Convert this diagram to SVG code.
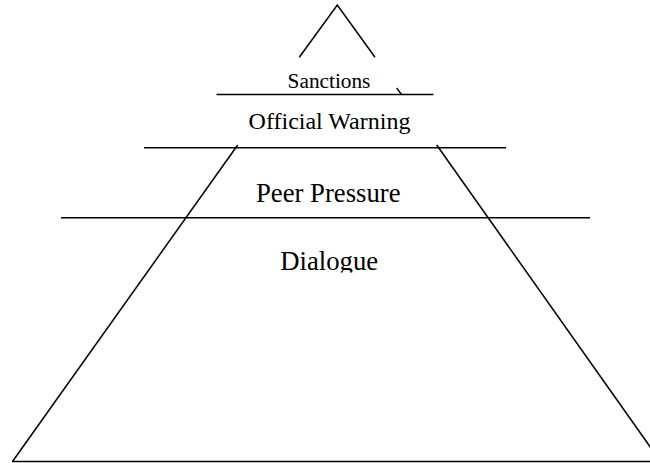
<svg xmlns="http://www.w3.org/2000/svg" width="650" height="463" viewBox="0 0 650 463">
<style>
.ln{stroke:#000;stroke-width:1.5;fill:none;stroke-linecap:butt}
.t{font-family:"Liberation Serif","Times New Roman",serif;fill:#000;text-anchor:middle}
</style>
<defs>
<clipPath id="clipDia"><rect x="0" y="230" width="650" height="42.5"/></clipPath>
</defs>
<rect width="650" height="463" fill="#fff"/>
<g id="connectors">
<polyline class="ln" points="299.3,57.3 337.3,5 375,57.3"/>
<line class="ln" x1="396.7" y1="88" x2="401.6" y2="94.6"/>
<line class="ln" x1="216.5" y1="94.5" x2="433.5" y2="94.5"/>
<line class="ln" x1="144" y1="147.7" x2="506" y2="147.7"/>
<line class="ln" x1="61" y1="217.7" x2="590" y2="217.7"/>
<line class="ln" x1="237.7" y1="145" x2="12.5" y2="461.5"/>
<line class="ln" x1="436.7" y1="145" x2="651" y2="448"/>
<line class="ln" x1="12" y1="461.5" x2="650" y2="461.5"/>
</g>
<g id="sanctions"><text class="t" x="329" y="88.3" font-size="21.3">Sanctions</text></g>
<g id="official-warning"><text class="t" x="329.5" y="129" font-size="24">Official Warning</text></g>
<g id="peer-pressure"><text class="t" x="328.3" y="202.3" font-size="26.7">Peer Pressure</text></g>
<g id="dialogue"><text class="t" x="329.2" y="270" font-size="26.7" clip-path="url(#clipDia)">Dialogue</text></g>
</svg>
